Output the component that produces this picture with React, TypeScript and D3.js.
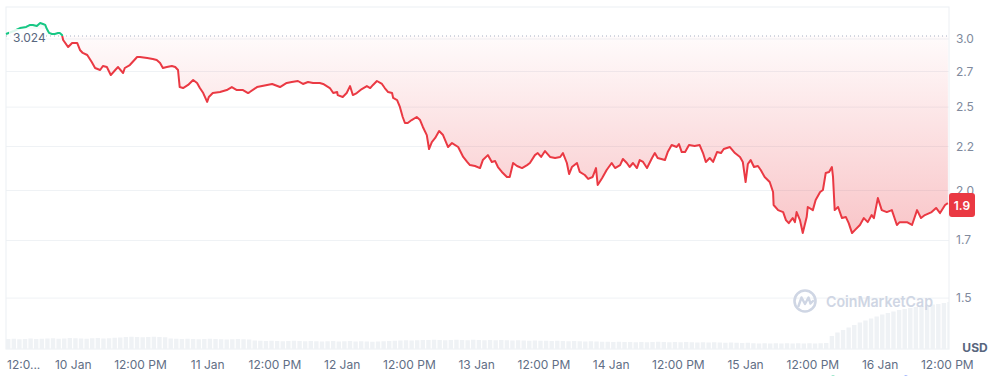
import React from 'react';
import * as d3 from 'd3';

const START = new Date(2025, 0, 9, 12, 0, 0).getTime();
const HOUR = 3600 * 1000;
const END_HOURS = 168.3;
const OPEN_PRICE = 3.024;
const OPEN_LABEL = '3.024';
const LAST_LABEL = '1.9';
const CURRENCY = 'USD';

// [hours since 9 Jan 12:00, price USD]
const priceSeries: [number, number][] = [
  [0, 3.040], [1.4, 3.065], [2.5, 3.089], [3.6, 3.098], [4.3, 3.115], [4.8, 3.115], [5.5, 3.106],
  [6.1, 3.131], [6.6, 3.123], [7.0, 3.115], [7.3, 3.081], [7.7, 3.049], [8.2, 3.040], [8.7, 3.040],
  [9.3, 3.049], [9.6, 3.049], [10.0, 3.032], [10.2, 2.992], [11.1, 2.936], [11.8, 2.968], [12.7, 2.968],
  [13.2, 2.913], [13.7, 2.890], [14.5, 2.874], [15.3, 2.821], [15.9, 2.776], [16.8, 2.761], [17.3, 2.791],
  [18.0, 2.783], [18.7, 2.724], [19.5, 2.761], [20.0, 2.783], [20.9, 2.739], [21.2, 2.776], [22.1, 2.798],
  [23.4, 2.859], [23.9, 2.859], [25.2, 2.851], [26.2, 2.844], [26.9, 2.836], [27.5, 2.813], [28.0, 2.776],
  [28.7, 2.783], [29.6, 2.791], [30.2, 2.783], [30.7, 2.761], [31.0, 2.638], [31.6, 2.631], [32.5, 2.653],
  [33.4, 2.688], [34.1, 2.667], [34.6, 2.631], [35.2, 2.596], [35.9, 2.535], [36.2, 2.569], [36.9, 2.596],
  [38.2, 2.603], [39.4, 2.617], [40.3, 2.638], [41.2, 2.617], [42.3, 2.617], [43.2, 2.596], [43.5, 2.603],
  [44.8, 2.638], [46.6, 2.653], [47.5, 2.660], [48.9, 2.638], [50.1, 2.667], [51.0, 2.674], [52.1, 2.681],
  [53.0, 2.660], [53.9, 2.674], [54.8, 2.667], [56.0, 2.667], [56.6, 2.660], [57.8, 2.631], [58.4, 2.596],
  [59.1, 2.603], [59.2, 2.582], [60.1, 2.569], [60.8, 2.596], [61.4, 2.645], [61.9, 2.582], [62.6, 2.596],
  [63.5, 2.624], [64.4, 2.645], [65.0, 2.631], [65.5, 2.653], [66.2, 2.681], [67.1, 2.660], [67.6, 2.631],
  [68.2, 2.603], [68.9, 2.596], [69.1, 2.562], [69.8, 2.548], [70.3, 2.501], [70.8, 2.435], [71.2, 2.396],
  [71.7, 2.396], [72.4, 2.415], [73.3, 2.435], [73.9, 2.415], [74.4, 2.371], [75.1, 2.320], [75.5, 2.235],
  [76.0, 2.277], [76.6, 2.302], [77.3, 2.345], [78.0, 2.320], [78.9, 2.247], [79.6, 2.271], [80.7, 2.247],
  [81.6, 2.188], [82.3, 2.159], [82.8, 2.141], [83.7, 2.136], [84.6, 2.124], [85.1, 2.170], [86.0, 2.199],
  [86.7, 2.159], [87.3, 2.164], [87.8, 2.130], [88.5, 2.102], [89.4, 2.074], [89.9, 2.074], [90.5, 2.153],
  [91.2, 2.136], [92.1, 2.124], [93.0, 2.141], [93.5, 2.153], [94.4, 2.199], [94.9, 2.211], [95.5, 2.188],
  [96.2, 2.223], [97.1, 2.188], [98.0, 2.182], [98.9, 2.188], [99.4, 2.211], [100.1, 2.153], [100.5, 2.090],
  [101.0, 2.130], [101.9, 2.153], [102.4, 2.102], [103.3, 2.085], [103.9, 2.063], [104.7, 2.074], [105.3, 2.124],
  [105.6, 2.030], [106.4, 2.068], [107.2, 2.113], [108.1, 2.153], [108.7, 2.124], [109.6, 2.141], [110.1, 2.176],
  [110.8, 2.153], [111.3, 2.130], [111.9, 2.153], [112.6, 2.124], [113.1, 2.170], [113.7, 2.159], [114.4, 2.124],
  [115.3, 2.182], [115.8, 2.211], [116.3, 2.182], [117.6, 2.170], [118.1, 2.217], [118.8, 2.259], [119.7, 2.247],
  [120.1, 2.265], [120.6, 2.217], [121.2, 2.217], [121.9, 2.259], [122.9, 2.253], [123.8, 2.259], [124.4, 2.211],
  [124.9, 2.159], [125.6, 2.182], [126.2, 2.159], [126.9, 2.217], [127.6, 2.211], [128.1, 2.235], [129.2, 2.247],
  [130.1, 2.211], [131.0, 2.188], [131.5, 2.159], [132.0, 2.046], [132.4, 2.147], [132.9, 2.170], [133.5, 2.130],
  [134.2, 2.136], [134.7, 2.113], [135.4, 2.074], [136.3, 2.046], [136.9, 1.992], [137.0, 1.924], [137.8, 1.898],
  [138.7, 1.888], [139.2, 1.848], [139.7, 1.833], [140.4, 1.858], [140.8, 1.838], [141.1, 1.888], [141.7, 1.848],
  [142.2, 1.785], [142.9, 1.863], [143.1, 1.914], [144.0, 1.898], [144.5, 1.950], [145.3, 1.992], [145.8, 2.003],
  [146.3, 2.096], [146.9, 2.102], [147.4, 2.130], [147.6, 2.074], [147.9, 1.898], [148.5, 1.914], [149.2, 1.858],
  [149.9, 1.863], [150.4, 1.833], [151.0, 1.785], [151.5, 1.799], [152.4, 1.824], [153.1, 1.858], [153.8, 1.838],
  [154.5, 1.873], [154.9, 1.858], [155.6, 1.960], [156.3, 1.898], [157.2, 1.888], [158.1, 1.898], [159.0, 1.824],
  [159.5, 1.838], [160.8, 1.838], [161.7, 1.824], [162.6, 1.898], [163.3, 1.858], [164.0, 1.873], [165.2, 1.888],
  [166.0, 1.909], [166.7, 1.883], [167.6, 1.924], [168.1, 1.934],
];

// hourly volume, million USD
const volumeSeries: number[] = [
  200, 205, 195, 200, 210, 200, 205,
  210, 215, 205, 210, 220, 215, 210, 205, 215, 220, 210, 215, 225, 230,
  240, 245, 240, 235, 240, 245, 240, 235,
  210, 205, 200, 205, 200, 195, 200, 205, 200, 195, 190, 195, 200, 195, 190,
  170, 165, 160, 165, 160, 155, 160, 165, 160, 155, 160, 155, 150, 155, 160, 150, 155, 160,
  150, 155, 150, 145, 150, 155, 160, 165, 170, 175, 170, 175, 180,
  180, 185, 180, 175, 180, 185, 180, 175, 185, 180, 175, 180, 175, 180, 175, 170, 175, 170, 165, 170, 165,
  165, 160, 165, 160, 155, 160, 155, 150, 155, 150, 145,
  145, 140, 145, 140, 140, 135, 140, 135, 140, 145, 140, 135, 140, 135, 140, 135, 130, 135, 130, 135, 130, 125, 130, 125, 120, 125,
  115, 110, 115, 110, 115, 110, 115, 110, 115, 110, 115, 110, 115, 120,
  260, 330, 380, 430, 480, 530, 570, 610, 650, 690, 720, 750, 780, 800, 820, 840, 860, 880, 890, 900, 920, 940,
];

const yTickValues = [3.0, 2.75, 2.5, 2.25, 2.0, 1.75, 1.5];
const yTickLabels = ['3.0', '2.7', '2.5', '2.2', '2.0', '1.7', '1.5'];
const xTickHours = [0, 12, 24, 36, 48, 60, 72, 84, 96, 108, 120, 132, 144, 156, 168];
const xTickLabels = ['12:0...', '10 Jan', '12:00 PM', '11 Jan', '12:00 PM', '12 Jan', '12:00 PM', '13 Jan',
  '12:00 PM', '14 Jan', '12:00 PM', '15 Jan', '12:00 PM', '16 Jan', '12:00 PM'];
const eventHours = [147.6, 160.6];

const W = 1005;
const H = 376;
const L = 6, R = 949, T = 7, B = 349;
const RED = '#ea3943';
const GREEN = '#16c784';
const FONT = 'Inter, "Noto Sans", sans-serif';

export default function App() {
  const toDate = (h: number) => new Date(START + h * HOUR);
  const x = d3.scaleTime().domain([toDate(0), toDate(END_HOURS)]).range([L, R]);
  const y = d3.scaleLog().domain([1.309, 3.268]).range([B, T]);
  const v = d3.scaleLinear().domain([0, 1200]).range([0, 60]);
  const baseY = y(OPEN_PRICE);

  const line = d3.line<[number, number]>().x(d => x(toDate(d[0]))).y(d => y(d[1]));
  const area = d3.area<[number, number]>().x(d => x(toDate(d[0]))).y0(baseY).y1(d => y(d[1]));
  const last = priceSeries[priceSeries.length - 1];
  const lastY = y(last[1]);
  const barStep = x(toDate(1)) - x(toDate(0));

  return (
    <svg width={W} height={H} style={{ position: 'absolute', left: 0, top: 0, fontFamily: FONT }}>
      <defs>
        <clipPath id="above"><rect x={0} y={0} width={W} height={baseY} /></clipPath>
        <clipPath id="below"><rect x={0} y={baseY} width={W} height={H - baseY} /></clipPath>
        <clipPath id="plot"><rect x={L} y={T} width={R - L} height={B - T} /></clipPath>
        <linearGradient id="redFill" gradientUnits="userSpaceOnUse" x1={0} y1={baseY} x2={0} y2={y(1.75)}>
          <stop offset="0" stopColor={RED} stopOpacity={0.02} />
          <stop offset="1" stopColor={RED} stopOpacity={0.3} />
        </linearGradient>
        <linearGradient id="greenFill" gradientUnits="userSpaceOnUse" x1={0} y1={baseY} x2={0} y2={T}>
          <stop offset="0" stopColor={GREEN} stopOpacity={0.02} />
          <stop offset="1" stopColor={GREEN} stopOpacity={0.12} />
        </linearGradient>
      </defs>

      {/* grid */}
      {yTickValues.map((t, i) => (
        <line key={i} x1={L} x2={R} y1={y(t)} y2={y(t)} stroke="#eff2f5" strokeWidth={1} />
      ))}
      <rect x={L} y={T} width={R - L} height={B - T} fill="none" stroke="#eceff3" strokeWidth={1} />

      {/* volume */}
      <g clipPath="url(#plot)">
        {volumeSeries.map((vol, i) => (
          <rect key={i} x={x(toDate(i))} y={B - v(vol)} width={barStep - 1.2} height={v(vol)} fill="#eff2f5" />
        ))}
      </g>

      {/* watermark */}
      <g opacity={1}>
        <circle cx={805} cy={301} r={10.5} fill="none" stroke="#cfd6e4" strokeWidth={2.6} />
        <path d="M798.5,306 L801.5,297.5 L805,304 L808.5,297.5 L810.5,303.5 L813,301" fill="none" stroke="#cfd6e4" strokeWidth={2.4} strokeLinejoin="round" strokeLinecap="round" />
        <text x={826} y={307} fontSize={15} fontWeight={600} fill="#cfd6e4" textLength={107} lengthAdjust="spacingAndGlyphs">CoinMarketCap</text>
      </g>

      {/* fills */}
      <path d={area(priceSeries) || ''} fill="url(#redFill)" clipPath="url(#below)" />
      <path d={area(priceSeries) || ''} fill="url(#greenFill)" clipPath="url(#above)" />

      {/* baseline */}
      <line x1={L} x2={R} y1={baseY} y2={baseY} stroke="#a6b0c3" strokeWidth={1} strokeDasharray="1 3" />

      {/* price line */}
      <path d={line(priceSeries) || ''} fill="none" stroke={RED} strokeWidth={2} strokeLinejoin="round" clipPath="url(#below)" />
      <path d={line(priceSeries) || ''} fill="none" stroke={GREEN} strokeWidth={2} strokeLinejoin="round" clipPath="url(#above)" />

      {/* open price label */}
      <rect x={9} y={29} width={37} height={16} fill="#ffffff" opacity={0.85} />
      <text x={13} y={37.5} fontSize={12} fill="#58667e" dominantBaseline="central">{OPEN_LABEL}</text>

      {/* y ticks */}
      {yTickValues.map((t, i) => (
        <text key={i} x={956} y={y(t) - 0.5} fontSize={12} fill="#808a9d" dominantBaseline="central">{yTickLabels[i]}</text>
      ))}
      <text x={975} y={347.5} fontSize={12} fontWeight={700} fill="#58667e" textAnchor="middle" dominantBaseline="central">{CURRENCY}</text>

      {/* last price badge */}
      <rect x={949} y={lastY - 10} width={26} height={24} rx={3} fill={RED} />
      <text x={962} y={lastY + 2} fontSize={12} fontWeight={600} fill="#ffffff" textAnchor="middle" dominantBaseline="central">{LAST_LABEL}</text>

      {/* x ticks */}
      {xTickHours.map((h, i) => (
        <text key={i} x={i === 0 ? x(toDate(h)) + 1 : x(toDate(h))} y={369} fontSize={12} fill="#616e85"
          textAnchor={i === 0 ? 'start' : 'middle'}>{xTickLabels[i]}</text>
      ))}

      {/* event markers */}
      {eventHours.map((h, i) => (
        <circle key={i} cx={x(toDate(h))} cy={380} r={4.5} fill={i === 0 ? GREEN : '#3861fb'} />
      ))}
    </svg>
  );
}
